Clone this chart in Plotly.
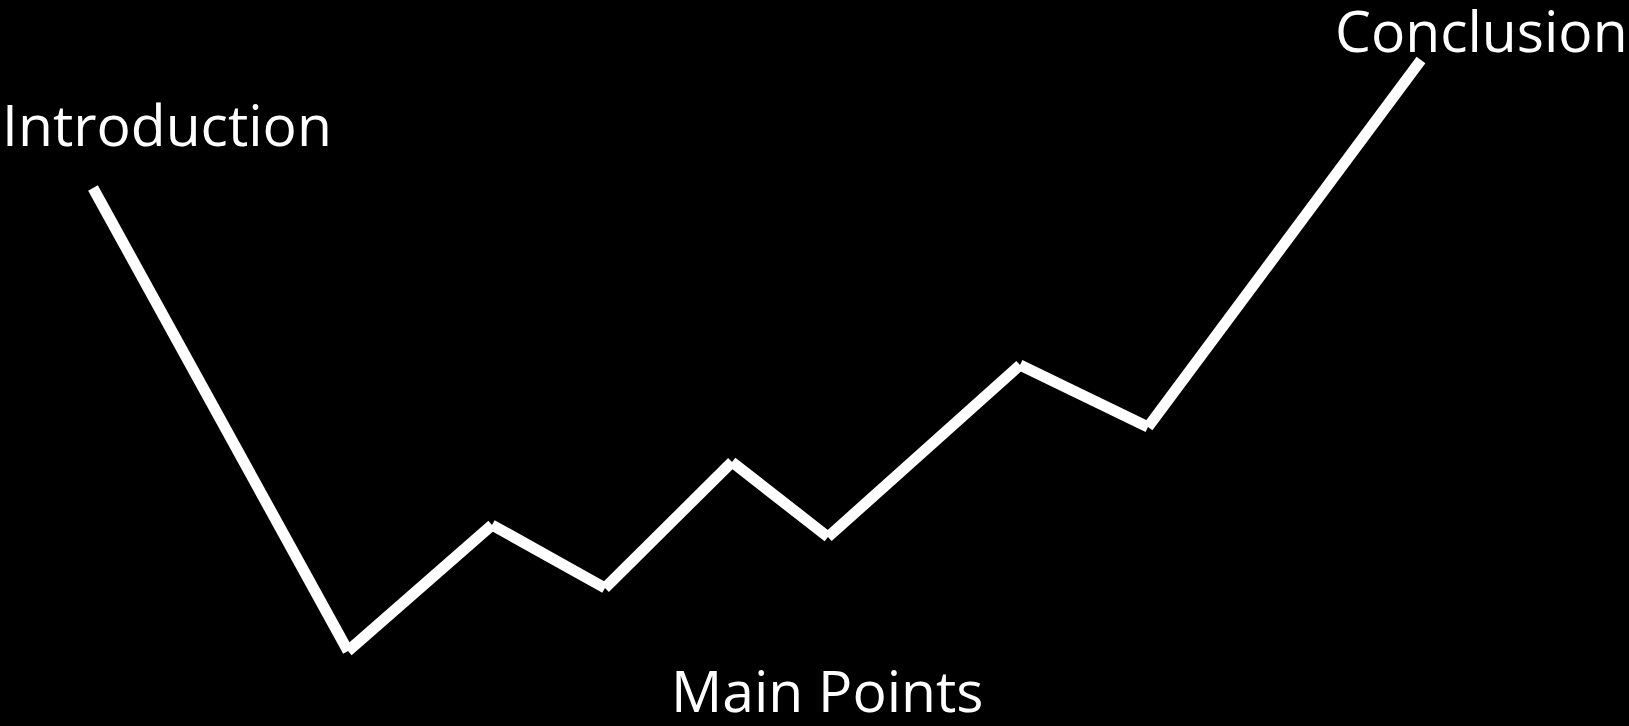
import plotly.graph_objects as go

# Path of the talk "story line" (x position, height in pixel-like units, y down)
x_vals = [93, 348, 492, 605, 732, 828, 1020, 1148, 1421]
y_vals = [188, 651, 525, 588, 462, 537, 365, 427, 60]

labels = ["Introduction", "Main Points", "Conclusion"]

W, H = 1629, 726
FONT = "'Open Sans', sans-serif"
FS = 57

fig = go.Figure()
for i in range(len(x_vals) - 1):
    fig.add_trace(go.Scatter(
        x=x_vals[i:i + 2], y=y_vals[i:i + 2], mode="lines",
        line=dict(color="white", width=11),
        hoverinfo="skip", showlegend=False,
    ))

fig.add_annotation(x=0, y=124, xref="x", yref="y", text=labels[0],
                   showarrow=False, xanchor="left", yanchor="middle",
                   font=dict(family=FONT, size=FS, color="white"))
fig.add_annotation(x=827, y=690, xref="x", yref="y", text=labels[1],
                   showarrow=False, xanchor="center", yanchor="middle",
                   font=dict(family=FONT, size=FS, color="white"))
fig.add_annotation(x=1333, y=30, xref="x", yref="y", text=labels[2],
                   showarrow=False, xanchor="left", yanchor="middle",
                   font=dict(family=FONT, size=FS, color="white"))

fig.update_layout(
    width=W, height=H,
    margin=dict(l=0, r=0, t=0, b=0),
    paper_bgcolor="black", plot_bgcolor="black",
    xaxis=dict(range=[0, W], visible=False, fixedrange=True),
    yaxis=dict(range=[H, 0], visible=False, fixedrange=True),
    showlegend=False,
)

fig.write_html("out.html", config={"displayModeBar": False})

with open("out.html", "r", encoding="utf-8") as f:
    html = f.read()
html = html.replace("<body>", '<body style="margin:0;padding:0;background:black;overflow:hidden">', 1)
with open("out.html", "w", encoding="utf-8") as f:
    f.write(html)
